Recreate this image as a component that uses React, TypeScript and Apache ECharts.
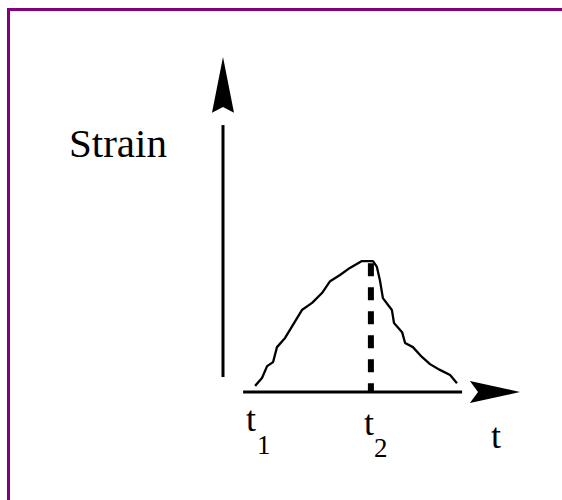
import React, { useEffect, useRef } from "react";
import * as echarts from "echarts";

// Strain curve (x: time units 0..100, y: strain units 0..100)
const curveX = [11.7, 14.0, 15.7, 17.7, 19.0, 21.7, 27.3, 30.7, 34.0, 36.7, 40.0, 43.3, 47.3, 51.0, 52.3, 53.3, 54.3, 57.3, 58.0, 60.7, 61.7, 64.3, 67.3, 70.0, 73.3, 76.7, 79.0];
const curveY = [1.8, 4.1, 7.6, 8.8, 13.2, 15.9, 24.1, 26.2, 29.1, 32.6, 34.4, 36.5, 38.5, 38.5, 36.8, 32.9, 27.6, 24.1, 20.3, 17.6, 14.4, 13.2, 10.3, 8.2, 6.5, 5.0, 2.6];

// Peak marker (t2)
const peakX = 50.3;
const peakY = 37.9;

// Axis lines
const yAxisLine = [[1.0, 4.4], [1.0, 78.5]];
const xAxisLine = [[7.7, 0], [80.7, 0]];

// Arrow heads: tip, base (wing) position along axis, notch position, half width
const arrowUp = { tip: [1.0, 98.5], base: 82.1, notch: 83.8, half: 3.67 };
const arrowRight = { tip: [100, 0], base: 83.3, notch: 86.0, half: 3.24 };

const labelFont = "Liberation Serif";

const txt = (text: string, x: number, y: number, size: number) => ({
  type: "text",
  x,
  y,
  style: { text, fontFamily: labelFont, fontSize: size },
});

export default function App() {
  const ref = useRef<HTMLDivElement>(null);
  useEffect(() => {
    if (!ref.current) return;
    const chart = echarts.init(ref.current, undefined, { renderer: "svg" });
    const curve = curveX.map((x, i) => [x, curveY[i]]);
    chart.setOption({
      animation: false,
      backgroundColor: "#ffffff",
      textStyle: { fontFamily: labelFont },
      grid: { left: 220, top: 52, width: 300, height: 340 },
      xAxis: { type: "value", min: 0, max: 100, show: false },
      yAxis: { type: "value", min: 0, max: 100, show: false },
      series: [
        {
          type: "line",
          data: curve,
          symbol: "none",
          clip: false,
          lineStyle: { color: "#000", width: 2.3 },
        },
        {
          type: "line",
          data: [[peakX, peakY], [peakX, 0]],
          symbol: "none",
          clip: false,
          lineStyle: { color: "#000", width: 6, type: [13, 11] },
        },
        {
          type: "line",
          data: yAxisLine,
          symbol: "none",
          clip: false,
          lineStyle: { color: "#000", width: 3 },
        },
        {
          type: "line",
          data: xAxisLine,
          symbol: "none",
          clip: false,
          lineStyle: { color: "#000", width: 3 },
        },
      ],
    });
    const p = (v: number[]) => chart.convertToPixel({ gridIndex: 0 }, v) as number[];
    const upPts = [
      p(arrowUp.tip),
      p([arrowUp.tip[0] + arrowUp.half, arrowUp.base]),
      p([arrowUp.tip[0], arrowUp.notch]),
      p([arrowUp.tip[0] - arrowUp.half, arrowUp.base]),
    ];
    const rightPts = [
      p(arrowRight.tip),
      p([arrowRight.base, arrowRight.tip[1] - arrowRight.half]),
      p([arrowRight.notch, arrowRight.tip[1]]),
      p([arrowRight.base, arrowRight.tip[1] + arrowRight.half]),
    ];
    chart.setOption({
      graphic: [
        txt("Strain", 69, 122.5, 41),
        txt("t", 246, 401, 36),
        txt("1", 257, 431, 27),
        txt("t", 364, 405, 36),
        txt("2", 374, 434, 27),
        txt("t", 491, 418, 36),
        { type: "polygon", shape: { points: upPts }, style: { fill: "#000" } },
        { type: "polygon", shape: { points: rightPts }, style: { fill: "#000" } },
      ],
    });
    return () => chart.dispose();
  }, []);
  return (
    <div style={{ position: "absolute", left: 0, top: 0, width: 562, height: 500 }}>
      <div ref={ref} style={{ position: "absolute", left: 0, top: 0, width: 562, height: 500 }} />
      <div
        style={{
          position: "absolute",
          left: 7,
          top: 8,
          right: 0,
          bottom: 0,
          borderTop: "3px solid #800080",
          borderLeft: "3px solid #800080",
          pointerEvents: "none",
        }}
      />
    </div>
  );
}
